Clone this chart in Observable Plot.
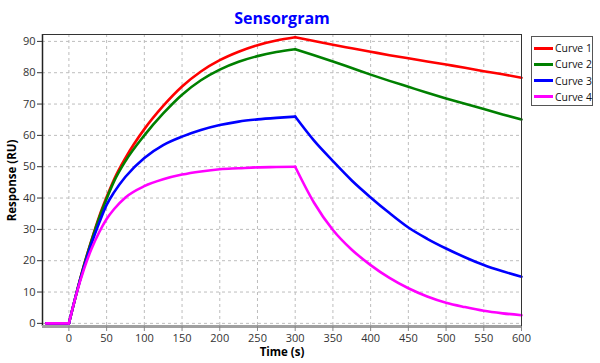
<!DOCTYPE html>
<html>
<head>
<meta charset="utf-8">
<script src="https://cdn.jsdelivr.net/npm/d3@7"></script>
<script src="https://cdn.jsdelivr.net/npm/@observablehq/plot@0.6"></script>
<style>
  html, body { margin: 0; padding: 0; background: #fff; }
  #wrap { position: relative; width: 600px; height: 363px; font-family: "Open Sans", sans-serif; }
  #legend { position: absolute; left: 531px; top: 36px; width: 62px; height: 70px; border: 1px solid #555; background: #fff; box-sizing: border-box; }
  .item { position: absolute; left: 2px; height: 14px; display: flex; align-items: center; font-size: 10.4px; color: #111; white-space: nowrap; }
  .sw { width: 19px; height: 3px; margin-right: 2px; }
</style>
</head>
<body>
<div id="wrap"></div>
<script>
const times  = [-30, 0, 10, 20, 30, 40, 50, 60, 75, 100, 125, 150, 175, 200, 225, 250, 275, 300, 325, 350, 375, 400, 425, 450, 475, 500, 525, 550, 575, 600];
const curve1 = [0, 0, 9.6, 18.6, 26.6, 34, 40.3, 46, 52.8, 62, 69.4, 75.6, 80.4, 84.0, 86.7, 88.8, 90.3, 91.3, 90.1, 88.9, 87.8, 86.7, 85.6, 84.6, 83.6, 82.6, 81.6, 80.5, 79.5, 78.4];
const curve2 = [0, 0, 9.6, 18.5, 26.4, 33.6, 39.8, 45.4, 51.8, 60, 67.0, 73.0, 77.6, 81.0, 83.5, 85.3, 86.6, 87.5, 85.6, 83.6, 81.5, 79.4, 77.4, 75.5, 73.6, 71.8, 70.1, 68.4, 66.7, 65.1];
const curve3 = [0, 0, 9.6, 18, 25.5, 32, 37.8, 41.9, 46.8, 52.8, 56.9, 59.6, 61.7, 63.3, 64.4, 65.1, 65.6, 66, 58.3, 51.8, 45.6, 40.2, 35.2, 30.6, 27, 23.9, 21.1, 18.6, 16.6, 14.9];
const curve4 = [0, 0, 9.4, 17.3, 23.8, 29, 33.3, 36.5, 40.2, 43.8, 46, 47.5, 48.5, 49.2, 49.5, 49.8, 49.9, 50, 38.5, 29.8, 23.5, 18.6, 14.5, 11.2, 8.6, 6.6, 5.2, 4.0, 3.2, 2.6];
const seriesNames = ["Curve 1", "Curve 2", "Curve 3", "Curve 4"];
const seriesColors = ["#ff0000", "#008000", "#0000ff", "#ff00ff"];
const phaseStarts = [-30, 0, 300];   // baseline, association, dissociation
const xTicks = [0, 50, 100, 150, 200, 250, 300, 350, 400, 450, 500, 550, 600];
const yTicks = [0, 10, 20, 30, 40, 50, 60, 70, 80, 90];
const title = "Sensorgram";
const xLabel = "Time (s)";
const yLabel = "Response (RU)";

const allCurves = [curve1, curve2, curve3, curve4];
const data = [];
seriesNames.forEach((name, i) => {
  phaseStarts.forEach((start, p) => {
    const end = p + 1 < phaseStarts.length ? phaseStarts[p + 1] : Infinity;
    times.forEach((t, j) => {
      if (t >= start && t <= end) data.push({series: name, seg: name + "-" + p, t, v: allCurves[i][j]});
    });
  });
});

const xDom = [-35, 600], yDom = [-1, 92.2];
const font = "Open Sans, sans-serif";

const chart = Plot.plot({
  width: 600,
  height: 363,
  marginLeft: 42,
  marginRight: 79,
  marginTop: 34,
  marginBottom: 37,
  style: {fontFamily: font, fontSize: "11px", color: "#222", background: "#fff"},
  x: {domain: xDom},
  y: {domain: yDom},
  color: {domain: seriesNames, range: seriesColors},
  marks: [
    Plot.gridX(xTicks, {stroke: "#bdbdbd", strokeOpacity: 1, strokeDasharray: "3,3"}),
    Plot.gridY(yTicks, {stroke: "#bdbdbd", strokeOpacity: 1, strokeDasharray: "3,3"}),
    Plot.line(data, {x: "t", y: "v", z: "seg", stroke: "series", strokeWidth: 2.6, curve: "monotone-x", strokeLinejoin: "round", strokeLinecap: "round"}),
    Plot.ruleX([xDom[0]], {stroke: "#222", strokeWidth: 1.5}),
    Plot.ruleX([xDom[1]], {stroke: "#333", strokeWidth: 1}),
    Plot.ruleY([yDom[1]], {stroke: "#333", strokeWidth: 1}),
    Plot.ruleY([yDom[0]], {stroke: "#a0a0a0", strokeWidth: 3}),
    Plot.axisY(yTicks, {tickSize: 5, tickPadding: 2, label: null, stroke: "#333", fill: "#333", fontSize: 11}),
    Plot.axisX(xTicks, {tickSize: 5, tickPadding: 3, label: null, stroke: "#888", fill: "#333", fontSize: 11}),
    Plot.text([title], {frameAnchor: "top", dy: -16, text: d => d, fill: "#0000ff", fontWeight: "bold", fontSize: 16, textAnchor: "middle", lineAnchor: "middle"}),
    Plot.text([xLabel], {frameAnchor: "bottom", dy: 26, text: d => d, fill: "#000", fontWeight: "bold", fontSize: 11.5, textAnchor: "middle", lineAnchor: "middle"}),
    Plot.text([yLabel], {frameAnchor: "left", dx: -30, rotate: -90, text: d => d, fill: "#000", fontWeight: "bold", fontSize: 11.5, textAnchor: "middle", lineAnchor: "middle"})
  ]
});

const wrap = document.getElementById("wrap");
wrap.appendChild(chart);

const legend = document.createElement("div");
legend.id = "legend";
seriesNames.forEach((name, i) => {
  const it = document.createElement("div");
  it.className = "item";
  it.style.top = (4 + i * 16.3) + "px";
  const sw = document.createElement("span");
  sw.className = "sw";
  sw.style.background = seriesColors[i];
  const tx = document.createElement("span");
  tx.textContent = name;
  it.appendChild(sw);
  it.appendChild(tx);
  legend.appendChild(it);
});
wrap.appendChild(legend);
</script>
</body>
</html>
